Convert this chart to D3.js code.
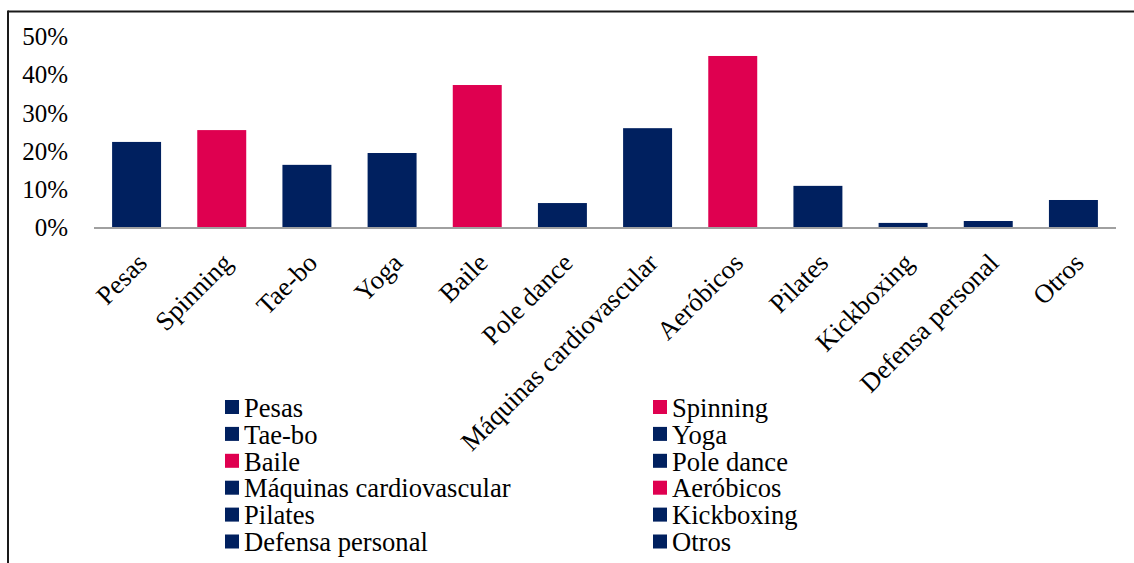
<!DOCTYPE html>
<html>
<head>
<meta charset="utf-8">
<script src="https://cdn.jsdelivr.net/npm/d3@7"></script>
<style>
  html, body { margin: 0; padding: 0; background: #ffffff; }
  svg { display: block; }
  text { font-family: "Liberation Serif", "Times New Roman", serif; fill: #000; }
</style>
</head>
<body>
<svg id="chart" width="1134" height="563"></svg>
<script>
// Activity categories and share of respondents
const categories = ["Pesas", "Spinning", "Tae-bo", "Yoga", "Baile", "Pole dance",
  "Máquinas cardiovascular", "Aeróbicos", "Pilates", "Kickboxing", "Defensa personal", "Otros"];
const values = [0.224, 0.255, 0.164, 0.195, 0.373, 0.064, 0.260, 0.449, 0.109, 0.012, 0.017, 0.072];
// Highlighted activities are drawn in crimson
const highlighted = ["Spinning", "Baile", "Aeróbicos"];
const yTicks = [0, 0.1, 0.2, 0.3, 0.4, 0.5];

const NAVY = "#00205f";
const CRIMSON = "#df0050";
const colorOf = c => highlighted.includes(c) ? CRIMSON : NAVY;

const svg = d3.select("#chart");

// Outer frame (top and left edges)
svg.append("line").attr("x1", 8).attr("x2", 1134).attr("y1", 11.5).attr("y2", 11.5)
  .attr("stroke", "#1a1a1a").attr("stroke-width", 2);
svg.append("line").attr("x1", 8).attr("x2", 8).attr("y1", 10.5).attr("y2", 563)
  .attr("stroke", "#1a1a1a").attr("stroke-width", 2);

const x = d3.scaleBand().domain(categories).range([94, 1116]).paddingInner(0.425).paddingOuter(0.2125);
const y = d3.scaleLinear().domain([0, 0.5]).range([227.5, 36.5]);

// Y axis labels only (no line, no ticks)
const yAxis = svg.append("g").attr("transform", "translate(68,0)")
  .call(d3.axisLeft(y).tickValues(yTicks).tickFormat(d3.format(".0%")).tickSize(0).tickPadding(0));
yAxis.select(".domain").remove();
yAxis.selectAll("text").attr("font-size", 25).attr("font-family", "Liberation Serif").attr("fill", "#000").attr("dy", "0.33em");

// Bars
svg.append("g").selectAll("rect").data(categories).join("rect")
  .attr("x", d => x(d))
  .attr("width", x.bandwidth())
  .attr("y", (d, i) => y(values[i]))
  .attr("height", (d, i) => y(0) - y(values[i]))
  .attr("fill", d => colorOf(d));

// Baseline
svg.append("line").attr("x1", 94).attr("x2", 1116).attr("y1", y(0) + 0.5).attr("y2", y(0) + 0.5)
  .attr("stroke", "#a0a0a0").attr("stroke-width", 2);

// Rotated category labels
const xAxis = svg.append("g").attr("transform", `translate(0,${y(0)})`)
  .call(d3.axisBottom(x).tickSize(0).tickPadding(0));
xAxis.select(".domain").remove();
xAxis.selectAll("text")
  .attr("font-size", 26.5).attr("font-family", "Liberation Serif").attr("fill", "#000")
  .attr("text-anchor", "end").attr("dy", null).attr("y", null)
  .attr("transform", "translate(12,37) rotate(-45)");

// Legend in two columns
const legend = svg.append("g");
const item = legend.selectAll("g").data(categories).join("g")
  .attr("transform", (d, i) => `translate(${i % 2 === 0 ? 225 : 653},${408 + Math.floor(i / 2) * 26.9})`);
item.append("rect").attr("x", 0).attr("y", -8).attr("width", 14).attr("height", 14)
  .attr("fill", d => colorOf(d));
item.append("text").attr("x", 19).attr("y", 0).attr("dy", "0.33em")
  .attr("font-size", 26.6).attr("font-family", "Liberation Serif").text(d => d);
</script>
</body>
</html>
